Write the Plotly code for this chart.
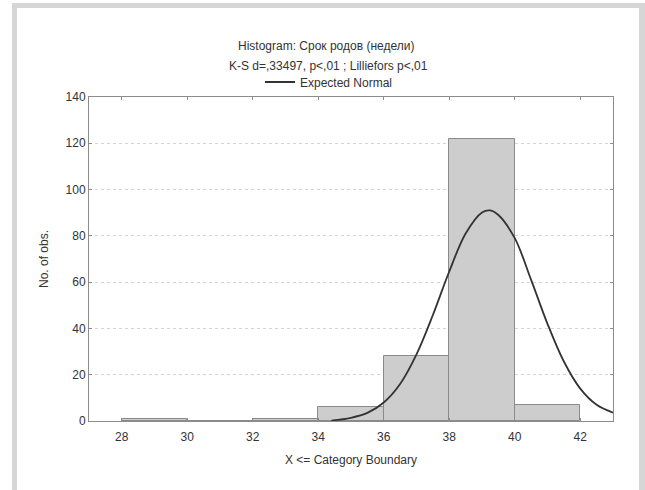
import plotly.graph_objects as go

# Histogram bins (weeks) and observed counts
bin_lo = [28, 30, 32, 34, 36, 38, 40]
bin_hi = [30, 32, 34, 36, 38, 40, 42]
counts = [1, 0, 1, 6, 28, 122, 7]

# Expected normal curve (frequency per bin)
norm_x = [34.4, 35.0, 35.5, 36.0, 36.5, 37.0, 37.5, 38.0, 38.5, 39.0, 39.25,
          39.5, 40.0, 40.5, 41.0, 41.5, 42.0, 42.5, 43.0]
norm_y = [0.2, 1.4, 3.5, 8.0, 16.0, 28.8, 45.8, 64.6, 81.0, 90.1, 91.0,
          89.0, 79.0, 61.0, 42.0, 25.7, 14.0, 7.0, 3.6]

x_ticks = [28, 30, 32, 34, 36, 38, 40, 42]

FONT = "Liberation Sans, Arial, sans-serif"
TXT = "#333333"
AX = "#8c8c8c"

W, H = 645, 490
L, R, T, B = 89, 32, 97, 69
PW, PH = W - L - R, H - T - B


def px(x):
    return (x - L) / PW


def py(y):
    return (H - B - y) / PH


mids = [(a + b) / 2 for a, b in zip(bin_lo, bin_hi)]
widths = [b - a for a, b in zip(bin_lo, bin_hi)]

fig = go.Figure()
fig.add_trace(go.Bar(
    x=mids, y=counts, width=widths,
    marker=dict(color="#cdcdcd", line=dict(color="#8a8a8a", width=1)),
    showlegend=False, hoverinfo="skip",
))
fig.add_trace(go.Scatter(
    x=norm_x, y=norm_y, mode="lines", name="Expected Normal",
    line=dict(color="#333333", width=1.8, shape="spline", smoothing=1.0),
))

# Light gray frame around the panel
frame = "#d6d6d6"
shapes = [
    dict(type="rect", xref="paper", yref="paper", x0=px(12), x1=px(17),
         y0=py(490), y1=py(3), fillcolor=frame, line=dict(width=0), layer="below"),
    dict(type="rect", xref="paper", yref="paper", x0=px(12), x1=px(645),
         y0=py(8), y1=py(3), fillcolor=frame, line=dict(width=0), layer="below"),
    dict(type="rect", xref="paper", yref="paper", x0=px(639), x1=px(645),
         y0=py(490), y1=py(3), fillcolor=frame, line=dict(width=0), layer="below"),
]

annotations = [
    dict(text="Histogram: Срок родов (недели)", xref="paper", yref="paper",
         x=px(326), y=py(46), xanchor="center", yanchor="middle",
         showarrow=False, font=dict(size=12, color=TXT, family=FONT)),
    dict(text="K-S d=,33497, p<,01 ; Lilliefors p<,01", xref="paper", yref="paper",
         x=px(328), y=py(66), xanchor="center", yanchor="middle",
         showarrow=False, font=dict(size=12, color=TXT, family=FONT)),
]

fig.update_layout(
    width=W, height=H,
    margin=dict(l=L, r=R, t=T, b=B, pad=0),
    paper_bgcolor="white", plot_bgcolor="white",
    font=dict(family=FONT, size=12, color=TXT),
    bargap=0,
    shapes=shapes,
    annotations=annotations,
    showlegend=True,
    legend=dict(orientation="h", x=px(260), y=py(82), xanchor="left",
                yanchor="middle", font=dict(size=12, color=TXT, family=FONT),
                bgcolor="rgba(0,0,0,0)", itemwidth=30),
    xaxis=dict(
        range=[27, 43], tickvals=x_ticks, ticks="inside", ticklen=3,
        tickcolor=AX, showline=True, linecolor=AX, linewidth=1, mirror="ticks",
        showgrid=False, zeroline=False, ticklabelstandoff=5,
        title=dict(text="X <= Category Boundary", standoff=12,
                   font=dict(size=12, color=TXT, family=FONT)),
        tickfont=dict(size=12, color=TXT, family=FONT),
    ),
    yaxis=dict(
        range=[0, 140], dtick=20, ticks="inside", ticklen=3,
        tickcolor=AX, showline=True, linecolor=AX, linewidth=1, mirror="ticks",
        showgrid=True, gridcolor="#d4d4d4", griddash="dot", gridwidth=1,
        zeroline=False,
        title=dict(text="No. of obs.", standoff=14,
                   font=dict(size=12, color=TXT, family=FONT)),
        tickfont=dict(size=12, color=TXT, family=FONT),
    ),
)

fig.write_html("out.html")
